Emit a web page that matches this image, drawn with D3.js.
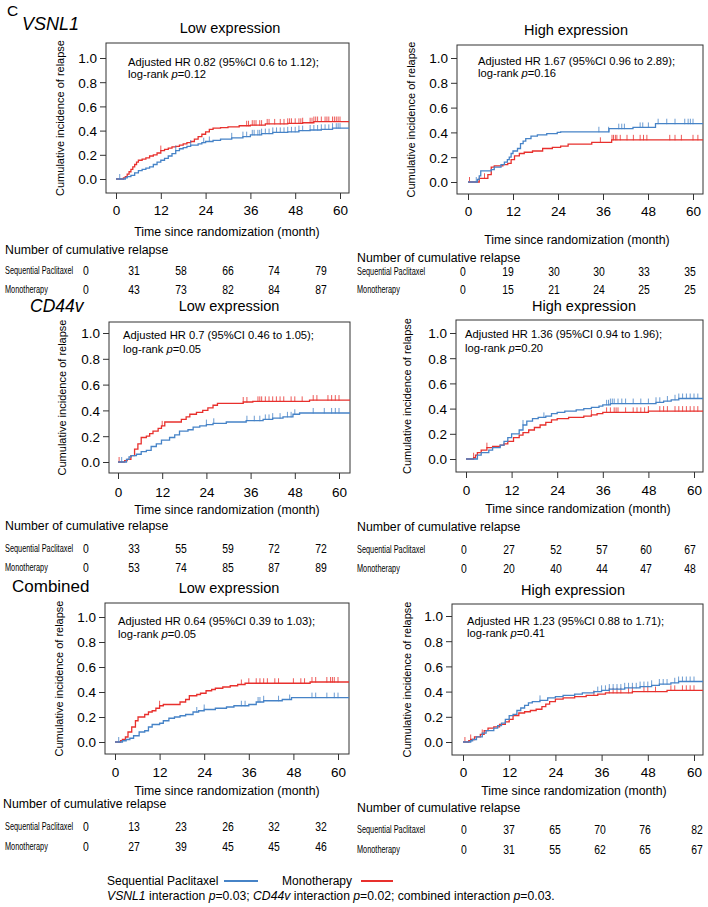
<!DOCTYPE html>
<html><head><meta charset="utf-8">
<script src="https://cdn.jsdelivr.net/npm/d3@7"></script>
<style>
body{margin:0;background:#fff}
svg{display:block}
text{font-family:"Liberation Sans",Arial,Helvetica,sans-serif;fill:#000}
</style>
</head><body>
<svg id="c" width="708" height="907"></svg>
<script>
// ---------- data ----------
const monthTicks = [0, 12, 24, 36, 48, 60];
const yTickValues = [0, 0.2, 0.4, 0.6, 0.8, 1.0];
const seriesNames = ["Sequential Paclitaxel", "Monotherapy"];
const genes = ["VSNL1", "CD44v", "Combined"];
const panelTitles = ["Low expression", "High expression"];

// step curves [month, cumulative incidence]
const vsnl1LowSeq = [[0,0],[2.5,0.01],[3,0.02],[4,0.03],[5,0.05],[6,0.07],[7,0.08],[8,0.09],[9,0.10],[10,0.12],[11,0.14],[12,0.155],[13,0.17],[14,0.19],[15,0.21],[16,0.235],[17,0.25],[18,0.26],[19,0.27],[20,0.28],[22,0.29],[23,0.30],[24,0.31],[26,0.32],[28,0.33],[31,0.34],[34,0.35],[36,0.365],[39,0.375],[42,0.385],[46,0.39],[49,0.40],[52,0.405],[55,0.41],[58,0.42]];
const vsnl1LowMono = [[0,0],[2,0.01],[2.5,0.02],[3,0.04],[3.5,0.06],[4,0.08],[4.5,0.10],[5,0.12],[5.5,0.14],[6,0.155],[7,0.165],[8,0.175],[9,0.19],[10,0.20],[11,0.215],[12,0.235],[13,0.245],[14,0.255],[15,0.265],[16,0.27],[17,0.28],[18,0.29],[19,0.30],[20,0.31],[21,0.33],[22,0.35],[23,0.37],[24,0.39],[25,0.41],[26,0.42],[28,0.425],[30,0.43],[33,0.44],[36,0.445],[40,0.455],[46,0.46],[50,0.465],[53,0.475]];
const vsnl1HighSeq = [[0,0],[2.5,0.02],[3,0.05],[3.4,0.09],[6.2,0.10],[7,0.12],[8.8,0.14],[9.7,0.16],[10.5,0.18],[11,0.20],[11.5,0.23],[12,0.25],[13.2,0.27],[14,0.31],[14.7,0.33],[15.4,0.35],[16.8,0.37],[18.5,0.38],[21,0.39],[23.8,0.40],[24.7,0.405],[37.6,0.43],[44,0.44],[50,0.47]];
const vsnl1HighMono = [[0,0],[3,0.03],[5.3,0.06],[6.2,0.12],[7,0.13],[9.3,0.14],[10.6,0.15],[11.5,0.18],[12.4,0.21],[13.7,0.23],[15,0.24],[17.2,0.25],[19.9,0.27],[22.5,0.28],[24.7,0.29],[26.7,0.306],[33,0.32],[38.3,0.34]];
const cd44LowSeq = [[0,0],[2.3,0.02],[3,0.04],[3.6,0.05],[5,0.06],[6.3,0.08],[7.7,0.09],[9,0.12],[10.4,0.14],[11.8,0.17],[14,0.19],[15.4,0.21],[16.7,0.24],[19,0.25],[20.4,0.27],[22.2,0.28],[24,0.29],[25.8,0.30],[29.4,0.31],[34.8,0.32],[39.4,0.33],[42,0.34],[44.8,0.35],[47.5,0.37],[49.3,0.38]];
const cd44LowMono = [[0,0],[1.8,0.01],[2.5,0.02],[3.5,0.05],[4.5,0.10],[5.4,0.14],[6.3,0.19],[7.7,0.20],[8.6,0.22],[9.5,0.24],[10.9,0.26],[11.8,0.28],[12.7,0.31],[17.2,0.33],[18.5,0.35],[19.5,0.37],[21.3,0.385],[23,0.40],[24.4,0.42],[25.8,0.44],[27,0.455],[34,0.465],[36.6,0.47],[52,0.48]];
const cd44HighSeq = [[0,0],[3,0.03],[4,0.05],[6,0.07],[7,0.09],[9,0.11],[10,0.14],[11,0.17],[12,0.20],[14,0.23],[15,0.27],[16,0.30],[17.5,0.32],[19,0.33],[21,0.34],[22.5,0.36],[24,0.37],[26,0.38],[29,0.39],[31,0.40],[33,0.41],[35,0.42],[36,0.43],[38,0.44],[50,0.45],[52,0.46],[54,0.47],[56,0.48]];
const cd44HighMono = [[0,0],[2,0.01],[2.5,0.03],[3,0.05],[4,0.07],[5.5,0.09],[7,0.10],[9,0.11],[10,0.12],[11,0.14],[12.5,0.17],[14,0.19],[15,0.21],[16.5,0.23],[18,0.25],[19.5,0.27],[21,0.29],[22.5,0.31],[24,0.32],[27,0.33],[31,0.34],[33,0.35],[34.5,0.36],[36,0.37],[48,0.38]];
const combLowSeq = [[0,0],[2,0.01],[3,0.02],[4,0.03],[5,0.05],[6.5,0.08],[8,0.09],[9,0.12],[10,0.14],[12,0.15],[13,0.17],[14.5,0.19],[16,0.20],[17.5,0.21],[19,0.22],[21,0.24],[22.5,0.25],[24,0.26],[27,0.27],[30,0.28],[32,0.29],[36,0.30],[38,0.32],[40,0.33],[45,0.34],[47.5,0.355]];
const combLowMono = [[0,0],[1.5,0.01],[2,0.02],[2.8,0.04],[3.5,0.08],[4.5,0.12],[5.5,0.17],[6.2,0.20],[8,0.22],[9,0.24],[10,0.25],[11,0.27],[12,0.29],[13,0.30],[17.5,0.32],[19,0.34],[20,0.37],[22,0.38],[23,0.39],[24.5,0.41],[26,0.42],[27,0.43],[29,0.44],[31,0.45],[33,0.46],[35,0.47],[52.5,0.48]];
const combHighSeq = [[0,0],[2,0.01],[2.5,0.02],[3.5,0.04],[5,0.07],[6,0.09],[8,0.11],[9,0.13],[10,0.15],[11,0.18],[12,0.21],[13,0.22],[14,0.25],[15,0.27],[16,0.29],[17,0.31],[18,0.32],[20,0.33],[22,0.35],[24,0.36],[26,0.37],[29,0.38],[31,0.39],[34,0.40],[36,0.41],[38,0.42],[42,0.43],[46,0.44],[49,0.45],[51,0.46],[54,0.47],[56,0.48]];
const combHighMono = [[0,0],[1.5,0.01],[2,0.02],[3,0.04],[4.5,0.06],[5.5,0.09],[6.5,0.11],[8,0.12],[9.5,0.14],[11,0.16],[12,0.18],[13,0.21],[14.5,0.23],[16,0.24],[17.5,0.25],[19,0.26],[20.5,0.28],[21.5,0.30],[22.5,0.32],[24,0.34],[26,0.35],[29,0.36],[32,0.37],[35,0.38],[37,0.39],[44,0.40],[53,0.41]];

// censoring times (months)
const vsnl1LowSeqCens = [1,16,20,23.5,25,31,34,35,36.5,37,38,38.5,39,40,41,42,43,44,45,46,47,48,49,50,52,53,54,55,56,57,58,59,59.5,60];
const vsnl1LowMonoCens = [12,35,35.5,36.5,37,37.5,38.5,39,40.5,41,42.5,44,45,46,46.5,47,48,49,49.5,50,52,52.5,53,53.5,54,55,56,56.5,57,58,58.5,59,59.5,60];
const vsnl1HighSeqCens = [2.2,34.9,37.5,40.2,41,41.7,45.9,46.6,48.1,50.7,53,55.2,57.8,58.7,59.3,60];
const vsnl1HighMonoCens = [0.4,4.4,35.3,38.4,38.8,39.3,39.7,40.6,42.4,44.1,45.9,46.8,47.7,53.8,55.2,56.9,60,61.3];
const cd44LowSeqCens = [1,24,26,35,37,38.5,40,41,42,44,46,47,48,53,56,58,59,60];
const cd44LowMonoCens = [0.3,12,34,35,38,38.5,39,40,41,42,43,44,45,47,48,50,53,54,57,58,59,60];
const cd44HighSeqCens = [15,20.5,37,37.5,38,38.5,39,40,41,42,44,46,48,50,51,53,55,56,57,58,59,60,61];
const cd44HighMonoCens = [2,5.5,33,37,38,39,39.5,40,42,44,45,46,47,48,51,52,53,55,56,57,58,59,60,61];
const combLowSeqCens = [1,22,24,34,35,38.5,39,40,44,47,53,54,57,59,60];
const combLowMonoCens = [12,34,36,38,39,40,41,43,44,48,50,51,53,54,57,58,58.5,59,60];
const combHighSeqCens = [20,35,36,37,38,39,40,41,42,43,44,45,46,47,48,49,51,52,53,55,56,57,58,59,60];
const combHighMonoCens = [0.5,2,5,34,38,39,40,41,43,44,47,48,50,54,55,57,58,59,60];

// Number of cumulative relapse tables
const vsnl1LowTable = [[0,31,58,66,74,79],[0,43,73,82,84,87]];
const vsnl1HighTable = [[0,19,30,30,33,35],[0,15,21,24,25,25]];
const cd44LowTable = [[0,33,55,59,72,72],[0,53,74,85,87,89]];
const cd44HighTable = [[0,27,52,57,60,67],[0,20,40,44,47,48]];
const combLowTable = [[0,13,23,26,32,32],[0,27,39,45,45,46]];
const combHighTable = [[0,37,65,70,76,82],[0,31,55,62,65,67]];

const annotations = [
  ["Adjusted HR 0.82 (95%CI 0.6 to 1.12);", "0.12"],
  ["Adjusted HR 1.67 (95%CI 0.96 to 2.89);", "0.16"],
  ["Adjusted HR 0.7 (95%CI 0.46 to 1.05);", "0.05"],
  ["Adjusted HR 1.36 (95%CI 0.94 to 1.96);", "0.20"],
  ["Adjusted HR 0.64 (95%CI 0.39 to 1.03);", "0.05"],
  ["Adjusted HR 1.23 (95%CI 0.88 to 1.71);", "0.41"]
];
const interactionP = ["0.03", "0.02", "0.03"];

// ---------- styles / layout ----------
const BLUE = "#4683c7", RED = "#e8302d";
const panels = [
  {seq:vsnl1LowSeq, mono:vsnl1LowMono, seqC:vsnl1LowSeqCens, monoC:vsnl1LowMonoCens, table:vsnl1LowTable, ann:annotations[0], title:panelTitles[0],
   box:[106,43,349,193], xr:[116,340], yr:[179,58], tt:[230,33], an:[128,66,78], ylx:64, tb:215, xt:[227,236], hdr:[5,254], rows:[274,293], lab:5, cols:[86,134,181,228,274,321]},
  {seq:vsnl1HighSeq, mono:vsnl1HighMono, seqC:vsnl1HighSeqCens, monoC:vsnl1HighMonoCens, table:vsnl1HighTable, ann:annotations[1], title:panelTitles[1],
   box:[457,45,703,194], xr:[468,693], yr:[182,58], tt:[576,35], an:[478,65,77], ylx:415, tb:216, xt:[577,244], hdr:[357,262], rows:[275,293], lab:357, cols:[463,508,554,599,644,690]},
  {seq:cd44LowSeq, mono:cd44LowMono, seqC:cd44LowSeqCens, monoC:cd44LowMonoCens, table:cd44LowTable, ann:annotations[2], title:panelTitles[0],
   box:[109,322,350,473], xr:[118,339], yr:[462,333], tt:[229,311], an:[123,339,353], ylx:66, tb:497, xt:[227,514], hdr:[5,530], rows:[552,571], lab:5, cols:[86,134,181,228,274,321]},
  {seq:cd44HighSeq, mono:cd44HighMono, seqC:cd44HighSeqCens, monoC:cd44HighMonoCens, table:cd44HighTable, ann:annotations[3], title:panelTitles[1],
   box:[456,320,703,472], xr:[466,694], yr:[459,333], tt:[584,311], an:[465,338,352], ylx:411, tb:495, xt:[578,513], hdr:[357,531], rows:[553,572], lab:357, cols:[464,509,556,602,646,690]},
  {seq:combLowSeq, mono:combLowMono, seqC:combLowSeqCens, monoC:combLowMonoCens, table:combLowTable, ann:annotations[4], title:panelTitles[0],
   box:[105,603,349,754], xr:[115,338], yr:[742,617], tt:[229,593], an:[118,625,638], ylx:63, tb:777, xt:[227,795], hdr:[3,808], rows:[830,850], lab:5, cols:[86,134,181,228,274,321]},
  {seq:combHighSeq, mono:combHighMono, seqC:combHighSeqCens, monoC:combHighMonoCens, table:combHighTable, ann:annotations[5], title:panelTitles[1],
   box:[452,604,703,755], xr:[463,694], yr:[742,616], tt:[573,595], an:[467,625,637], ylx:411, tb:777, xt:[574,795], hdr:[357,812], rows:[833,853], lab:357, cols:[464,509,555,600,645,697]}
];

const svg = d3.select("#c");

// header labels
svg.append("text").attr("x",7).attr("y",16).attr("font-size",15.5).text("C");
svg.append("text").attr("x",22).attr("y",30).attr("font-size",18).attr("font-style","italic").text(genes[0]);
svg.append("text").attr("x",30).attr("y",312).attr("font-size",17.5).attr("font-style","italic").text(genes[1]);
svg.append("text").attr("x",12).attr("y",592).attr("font-size",17).text(genes[2]);

function valueAt(curve, t){
  let v = 0;
  for (const [tt, vv] of curve){ if (tt <= t) v = vv; else break; }
  return v;
}

panels.forEach(p => {
  const g = svg.append("g");
  const x = d3.scaleLinear().domain([0,60]).range(p.xr);
  const y = d3.scaleLinear().domain([0,1]).range(p.yr);
  const xEnd = x.invert(p.box[2]);

  // box
  g.append("rect").attr("x",p.box[0]).attr("y",p.box[1])
    .attr("width",p.box[2]-p.box[0]).attr("height",p.box[3]-p.box[1])
    .attr("fill","none").attr("stroke","#333").attr("stroke-width",1);

  // axes
  const xa = g.append("g").attr("transform",`translate(0,${p.box[3]})`)
    .call(d3.axisBottom(x).tickValues(monthTicks).tickSize(6).tickSizeOuter(0));
  xa.select(".domain").remove();
  xa.selectAll("line").attr("stroke","#333");
  xa.selectAll("text").attr("dy",null).attr("y",p.tb - p.box[3]).attr("font-size",13.5)
    .attr("font-family","Liberation Sans, Arial, sans-serif").attr("fill","#000");

  const ya = g.append("g").attr("transform",`translate(${p.box[0]},0)`)
    .call(d3.axisLeft(y).tickValues(yTickValues).tickSize(6).tickSizeOuter(0).tickPadding(3).tickFormat(d3.format(".1f")));
  ya.select(".domain").remove();
  ya.selectAll("line").attr("stroke","#333");
  ya.selectAll("text").attr("font-size",13.5).attr("dy","0.36em")
    .attr("font-family","Liberation Sans, Arial, sans-serif").attr("fill","#000");

  // titles
  g.append("text").attr("x",p.tt[0]).attr("y",p.tt[1]).attr("text-anchor","middle").attr("font-size",14.5).text(p.title);
  g.append("text").attr("transform",`translate(${p.ylx},${(p.box[1]+p.box[3])/2}) rotate(-90)`)
    .attr("text-anchor","middle").attr("font-size",11).text("Cumulative incidence of relapse");
  g.append("text").attr("x",p.xt[0]).attr("y",p.xt[1]).attr("text-anchor","middle").attr("font-size",12.3).text("Time since randomization (month)");

  // annotation
  g.append("text").attr("x",p.an[0]).attr("y",p.an[1]).attr("font-size",11.2).text(p.ann[0]);
  const t2 = g.append("text").attr("x",p.an[0]).attr("y",p.an[2]).attr("font-size",11.2);
  t2.append("tspan").text("log-rank ");
  t2.append("tspan").attr("font-style","italic").text("p");
  t2.append("tspan").text("=" + p.ann[1]);

  // curves
  const line = d3.line().x(d=>x(d[0])).y(d=>y(d[1])).curve(d3.curveStepAfter);
  [[p.mono, p.monoC, RED],[p.seq, p.seqC, BLUE]].forEach(([curve, cens, col]) => {
    const pts = curve.concat([[xEnd, curve[curve.length-1][1]]]);
    g.append("path").datum(pts).attr("d", line).attr("fill","none").attr("stroke",col).attr("stroke-width",1.3);
    g.selectAll(null).data(cens).enter().append("line")
      .attr("x1",d=>x(d)).attr("x2",d=>x(d))
      .attr("y1",d=>y(valueAt(curve,d))+0.5).attr("y2",d=>y(valueAt(curve,d))-5)
      .attr("stroke",col).attr("stroke-width",0.8);
  });

  // table
  g.append("text").attr("x",p.hdr[0]).attr("y",p.hdr[1]).attr("font-size",12.3).text("Number of cumulative relapse");
  p.table.forEach((row, i) => {
    g.append("text").attr("transform",`translate(${p.lab},${p.rows[i]}) scale(0.7,1)`)
      .attr("font-size",10.5).text(seriesNames[i]);
    row.forEach((v, j) => {
      g.append("text").attr("transform",`translate(${p.cols[j]},${p.rows[i]+1}) scale(0.8,1)`)
        .attr("text-anchor","middle").attr("font-size",13).text(v);
    });
  });
});

// legend
const lg = svg.append("g");
lg.append("text").attr("x",107).attr("y",885).attr("font-size",12).text(seriesNames[0]);
lg.append("line").attr("x1",224).attr("x2",258).attr("y1",881).attr("y2",881).attr("stroke",BLUE).attr("stroke-width",2);
lg.append("text").attr("x",282).attr("y",885).attr("font-size",12).text(seriesNames[1]);
lg.append("line").attr("x1",361).attr("x2",393).attr("y1",881).attr("y2",881).attr("stroke",RED).attr("stroke-width",2);
const l2 = lg.append("text").attr("x",107).attr("y",900).attr("font-size",12.2);
l2.append("tspan").attr("font-style","italic").text(genes[0]);
l2.append("tspan").text(" interaction ");
l2.append("tspan").attr("font-style","italic").text("p");
l2.append("tspan").text("=" + interactionP[0] + "; ");
l2.append("tspan").attr("font-style","italic").text(genes[1]);
l2.append("tspan").text(" interaction ");
l2.append("tspan").attr("font-style","italic").text("p");
l2.append("tspan").text("=" + interactionP[1] + "; combined interaction ");
l2.append("tspan").attr("font-style","italic").text("p");
l2.append("tspan").text("=" + interactionP[2] + ".");
</script>
</body></html>
